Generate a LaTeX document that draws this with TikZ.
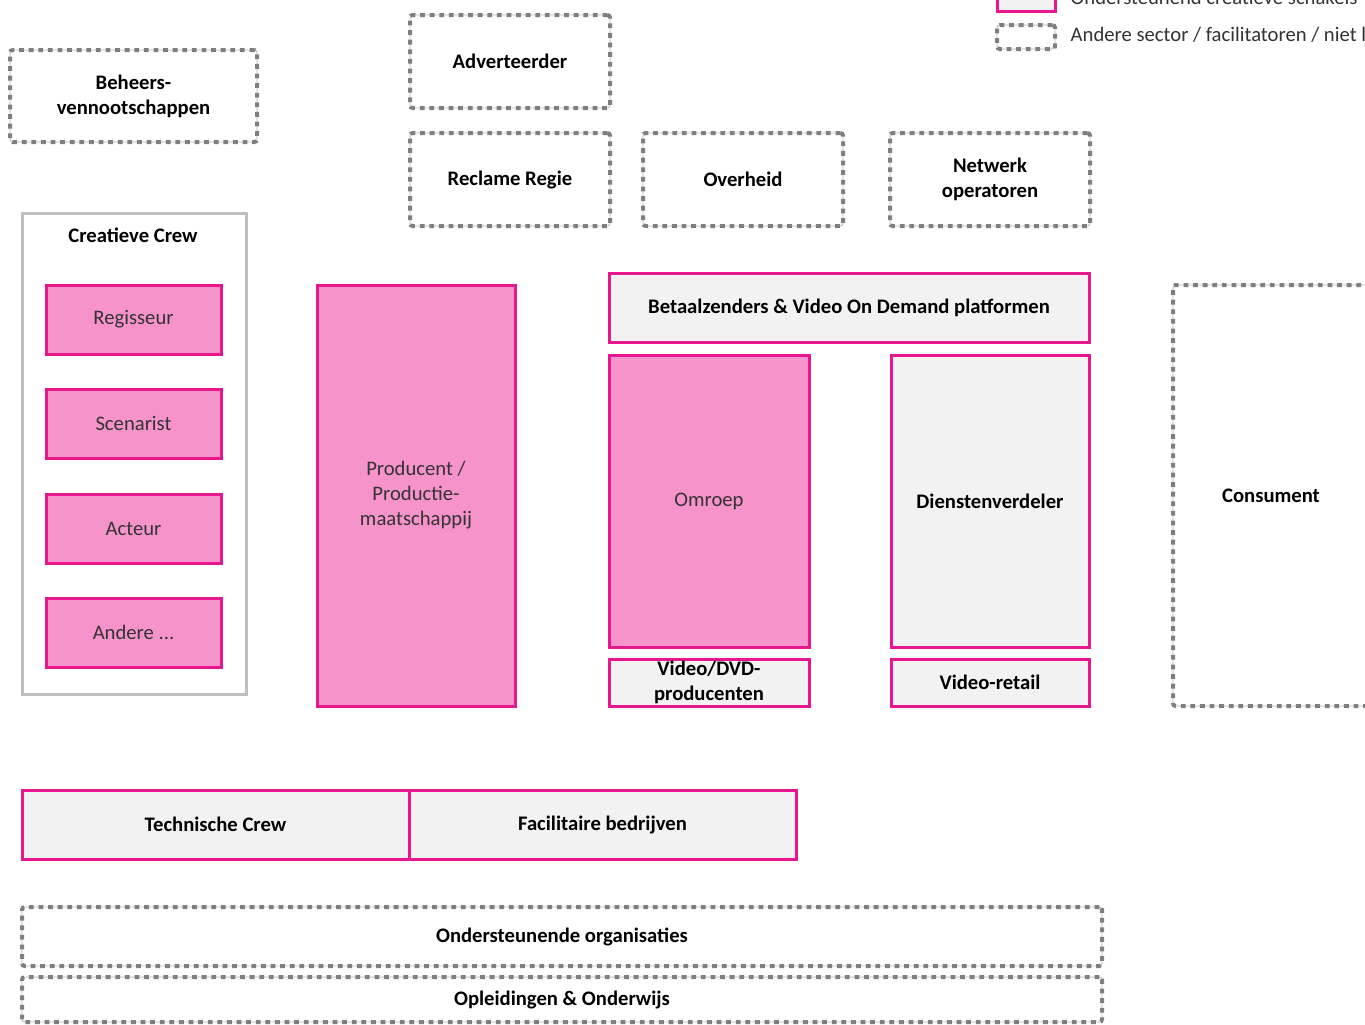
\documentclass[tikz,border=0pt]{standalone}
\usepackage{fontspec}
\setmainfont{Carlito}
\usetikzlibrary{positioning}

\definecolor{magentaedge}{HTML}{E8178F}
\definecolor{pinkfill}{HTML}{F793CB}
\definecolor{greyfill}{HTML}{F2F2F2}
\definecolor{crewgrey}{HTML}{BFBFBF}
\definecolor{dotgrey}{HTML}{7F7F7F}
\definecolor{darktext}{HTML}{333333}

\newcommand{\boxfont}{\fontsize{15.5pt}{18.75pt}\selectfont}

\begin{document}
\begin{tikzpicture}
   [
      % one unit is one pixel of the reference (0.75pt), y runs downwards
      x=0.75pt, y=-0.75pt,
      % size of a box in pixels, placed by its top left corner
      box/.style 2 args={anchor=north west, minimum width=#1*0.75pt, minimum height=#2*0.75pt, outer sep=0pt, align=center, inner sep=2pt},
      % creative links: pink fill, magenta border
      creative/.style={draw=magentaedge, fill=pinkfill, line width=2.25pt, text=darktext, font=\boxfont},
      % supporting creative links: grey fill, magenta border
      support/.style={draw=magentaedge, fill=greyfill, line width=2.25pt, font=\boxfont\bfseries},
      % other sector / facilitators: dotted grey border
      other/.style={draw=dotgrey, line width=3pt, dash pattern=on 3.6pt off 3.6pt, rounded corners=2pt,
                    preaction={draw=dotgrey!60, line width=0.6pt, solid}, font=\boxfont\bfseries},
      % the frame round the creative crew
      crew frame/.style={draw=crewgrey, line width=2.25pt, fill=white},
      % legend texts
      legend text/.style={anchor=west, text=darktext, font=\boxfont}
   ]

    \useasboundingbox (0,0) rectangle (1365,1025);

    % =======================================================
    % Legend (top right, partly off the page)
    % =======================================================
    \node[support, box={58}{22}] (legSupport) at (997,-11) {};
    \node[legend text] (legSupportText) at (1066,-3) {Ondersteunend creatieve schakels};
    \node[other, box={58}{24}] (legOther) at (997,25) {};
    \node[legend text] (legOtherText) at (1066,35) {Andere sector / facilitatoren / niet l};

    % =======================================================
    % Other sectors along the top
    % =======================================================
    \node[other, box={247}{92}] (beheer) at (10,50) {Beheers-\\vennootschappen};
    \node[other, box={200}{93}] (adverteerder) at (410,15) {Adverteerder};
    \node[other, box={200}{93}] (regie) at (410,133) {Reclame Regie};
    \node[other, box={200}{93}, right=24.75pt of regie.north east, anchor=north west] (overheid) {Overheid};
    \node[other, box={200}{93}] (netwerk) at (890,133) {Netwerk\\operatoren};

    % =======================================================
    % Creative crew
    % =======================================================
    \node[crew frame, box={224}{481}] (crew) at (22,213) {};
    \node[font=\boxfont\bfseries] (crewTitle) at (133,235) {Creatieve Crew};

    \node[creative, box={175}{69}] (regisseur) at (46,285) {Regisseur};
    \node[creative, box={175}{69}, below=26.25pt of regisseur.south west, anchor=north west] (scenarist) {Scenarist};
    \node[creative, box={175}{69}, below=27pt of scenarist.south west, anchor=north west] (acteur) {Acteur};
    \node[creative, box={175}{69}, below=26.25pt of acteur.south west, anchor=north west] (andere) {Andere ...};

    % =======================================================
    % Production and distribution
    % =======================================================
    \node[creative, box={198}{421}] (producent) at (317,285) {Producent /\\Productie-\\maatschappij};

    \node[support, box={480}{69}] (betaal) at (609,273) {Betaalzenders \& Video On Demand platformen};
    \node[creative, box={200}{292}] (omroep) at (609,355) {Omroep};
    \node[support, box={198}{292}] (diensten) at (891,355) {Dienstenverdeler};
    \node[support, box={200}{47}, inner sep=0pt] (dvd) at (609,659) {Video/DVD-\\producenten};
    \node[support, box={198}{47}] (retail) at (891,659) {Video-retail};

    \node[other, box={210}{421}] (consument) at (1173,285) {Consument\hspace*{10.5pt}};

    % =======================================================
    % Technical side and supporting organisations
    % =======================================================
    \node[support, box={387}{69}] (technisch) at (22,790) {Technische Crew};
    \node[support, box={387}{69}] (facilitair) at (409,790) {Facilitaire bedrijven};

    \node[other, box={1080}{59}] (ondersteun) at (22,907) {Ondersteunende organisaties};
    \node[other, box={1080}{45}] (opleiding) at (22,977) {Opleidingen \& Onderwijs};

\end{tikzpicture}
\end{document}
